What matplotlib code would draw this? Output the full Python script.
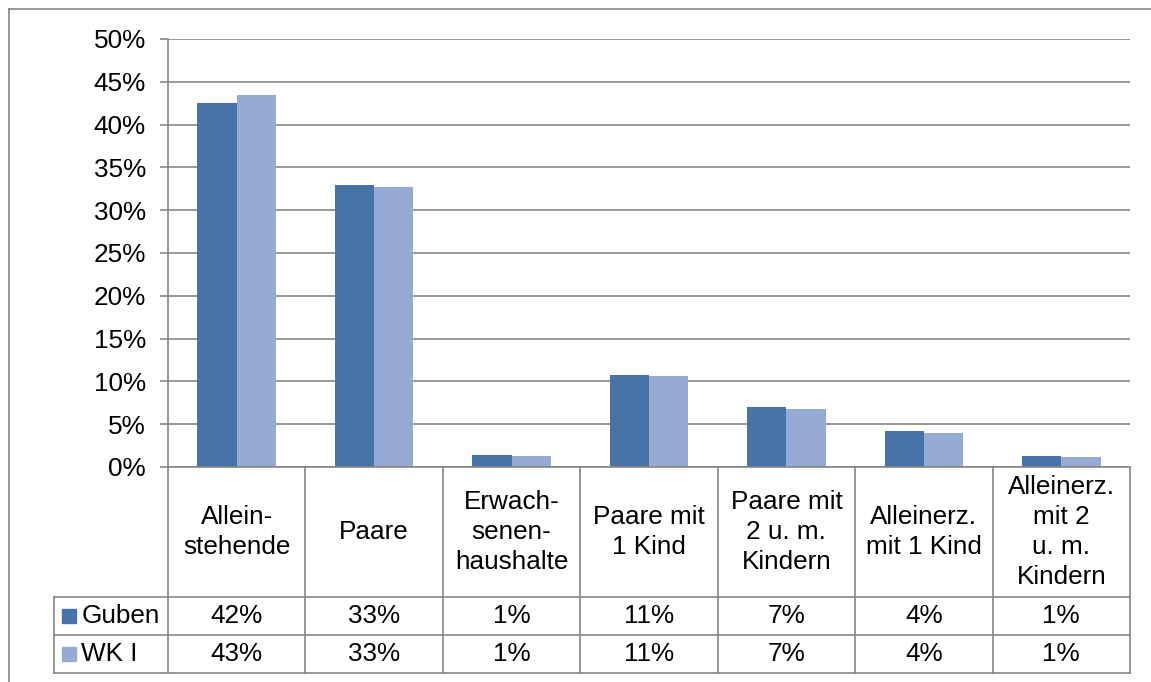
import numpy as np
import matplotlib
matplotlib.use('Agg')
import matplotlib.pyplot as plt
from matplotlib.lines import Line2D
from matplotlib.patches import Rectangle

plt.rcParams['font.family'] = ['Liberation Sans', 'DejaVu Sans']

# ── Daten ──
categories = ['Allein-\nstehende', 'Paare', 'Erwach-\nsenen-\nhaushalte', 'Paare mit\n1 Kind',
              'Paare mit\n2 u. m.\nKindern', 'Alleinerz.\nmit 1 Kind', 'Alleinerz.\nmit 2\nu. m.\nKindern']
series_names = ['Guben', 'WK I']
guben = [42.5, 32.9, 1.4, 10.8, 7.0, 4.2, 1.3]
wk1 = [43.4, 32.7, 1.3, 10.6, 6.8, 4.0, 1.2]
guben_labels = ['42%', '33%', '1%', '11%', '7%', '4%', '1%']
wk1_labels = ['43%', '33%', '1%', '11%', '7%', '4%', '1%']
yticks = [0, 5, 10, 15, 20, 25, 30, 35, 40, 45, 50]

colors = ['#4673A8', '#95ABD3']
grey = '#868686'
W, H = 1151, 682
fs = 18.8

fig = plt.figure(figsize=(W / 100, H / 100), dpi=100)

# Diagrammbereich
x_left, x_right, y_top, y_zero = 168, 1130, 39, 467
ax = fig.add_axes([x_left / W, (H - y_zero) / H, (x_right - x_left) / W, (y_zero - y_top) / H])
n = len(categories)
x = np.arange(n) + 0.5
bw = 1 / 3.5
ax.bar(x - bw / 2, guben, bw, color=colors[0], zorder=3)
ax.bar(x + bw / 2, wk1, bw, color=colors[1], zorder=3)
ax.set_xlim(0, n)
ax.set_ylim(0, 50)
ax.set_yticks(yticks)
ax.set_yticklabels([f'{v}%' for v in yticks], fontsize=fs)
ax.set_xticks([])
ax.yaxis.grid(True, color=grey, linewidth=1.2, zorder=0)
ax.tick_params(axis='y', length=6, width=1.2, color=grey, pad=10)
for s in ['top', 'right']:
    ax.spines[s].set_visible(False)
for s in ['left', 'bottom']:
    ax.spines[s].set_color(grey)
    ax.spines[s].set_linewidth(1.2)
ax.spines['bottom'].set_zorder(4)

# Datentabelle
t_left, t_bottom = 54, 673
w0 = (x_left - t_left) / ((x_right - x_left) / n)
rows = [0, 130, 168, 206]
tax = fig.add_axes([t_left / W, (H - t_bottom) / H, (x_right - t_left) / W, (t_bottom - y_zero) / H])
tax.set_xlim(-w0, n)
tax.set_ylim(rows[-1], 0)
tax.axis('off')
lk = dict(color=grey, linewidth=1.2, clip_on=False)
for i in range(n + 1):
    tax.plot([i, i], [0, rows[-1]], **lk)
tax.plot([-w0, -w0], [rows[1], rows[-1]], **lk)
for r in rows[1:]:
    tax.plot([-w0, n], [r, r], **lk)

for i, cat in enumerate(categories):
    tax.text(i + 0.5, rows[1] / 2, cat, ha='center', va='center', fontsize=fs,
             linespacing=1.33)
for k, (name, labels) in enumerate([(series_names[0], guben_labels), (series_names[1], wk1_labels)]):
    yc = (rows[k + 1] + rows[k + 2]) / 2
    for i, lab in enumerate(labels):
        tax.text(i + 0.5, yc, lab, ha='center', va='center', fontsize=fs)
    tax.add_patch(Rectangle((-w0 + 0.06, yc - 7), 0.1, 14, color=colors[k], clip_on=False))
    tax.text(-w0 + 0.2, yc, name, ha='left', va='center', fontsize=fs)

# Rahmen
fig.add_artist(Line2D([9 / W, 1], [1 - 9 / H, 1 - 9 / H], color=grey, linewidth=1.2))
fig.add_artist(Line2D([9 / W, 9 / W], [0, 1 - 9 / H], color=grey, linewidth=1.2))

fig.savefig('out.png', dpi=100)
